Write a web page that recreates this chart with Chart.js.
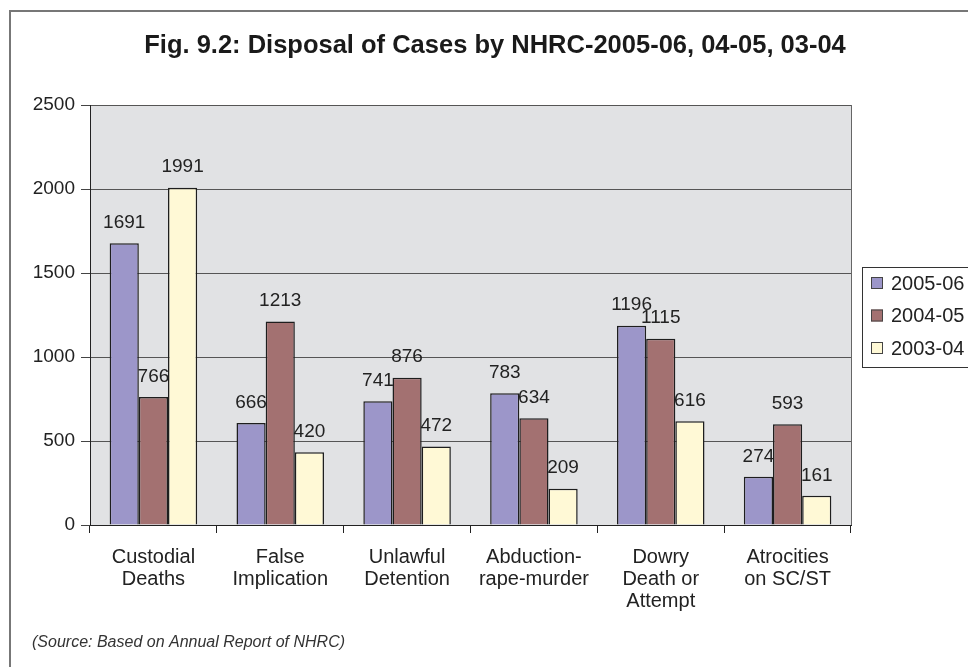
<!DOCTYPE html>
<html>
<head>
<meta charset="utf-8">
<script src="https://cdn.jsdelivr.net/npm/chart.js@4.4.0/dist/chart.umd.min.js"></script>
<style>
  html, body { margin: 0; padding: 0; background: #fff; overflow: hidden; }
  #wrap { position: relative; width: 968px; height: 667px; }
</style>
</head>
<body>
<div id="wrap"><canvas id="chart" width="968" height="667"></canvas></div>
<script>
// categories (multi-line tick labels)
const categories = [
    ["Custodial", "Deaths"],
    ["False", "Implication"],
    ["Unlawful", "Detention"],
    ["Abduction-", "rape-murder"],
    ["Dowry", "Death or", "Attempt"],
    ["Atrocities", "on SC/ST"]
];

const seriesNames = ["2005-06", "2004-05", "2003-04"];

// bar heights as drawn in the picture
const values0506 = [1677, 607, 736, 784, 1186, 287];
const values0405 = [762, 1212, 877, 635, 1109, 599];
const values0304 = [2008, 433, 468, 216, 617, 174];

// printed numbers above the bars
const labels0506 = ["1691", "666", "741", "783", "1196", "274"];
const labels0405 = ["766", "1213", "876", "634", "1115", "593"];
const labels0304 = ["1991", "420", "472", "209", "616", "161"];

const yTicks = [0, 500, 1000, 1500, 2000, 2500];

const titleText = "Fig. 9.2: Disposal of Cases by NHRC-2005-06, 04-05, 03-04";
const sourceText = "(Source: Based on Annual Report of NHRC)";

const colors = ["#9c96c9", "#a37171", "#fff9d6"];
const FONT = "'Liberation Sans', Arial, sans-serif";

Chart.defaults.font.family = FONT;
Chart.defaults.color = "#222";

// background, frame, title, source
const decorPlugin = {
    id: "decor",
    beforeDraw(chart) {
        const { ctx, chartArea: a } = chart;
        ctx.save();
        ctx.fillStyle = "#fff";
        ctx.fillRect(0, 0, chart.width, chart.height);
        // outer frame
        ctx.strokeStyle = "#777";
        ctx.lineWidth = 2;
        ctx.beginPath();
        ctx.moveTo(10, 700);
        ctx.lineTo(10, 11);
        ctx.lineTo(1000, 11);
        ctx.stroke();
        // plot background
        ctx.fillStyle = "#e1e2e4";
        ctx.fillRect(a.left, a.top, a.right - a.left, a.bottom - a.top);
        // title
        ctx.fillStyle = "#1a1a1a";
        ctx.font = "bold 25.5px " + FONT;
        ctx.textAlign = "center";
        ctx.textBaseline = "middle";
        ctx.fillText(titleText, 495, 46);
        // source
        ctx.font = "italic 16px " + FONT;
        ctx.textAlign = "left";
        ctx.fillStyle = "#333";
        ctx.fillText(sourceText, 32, 643);
        ctx.restore();
    },
    afterDraw(chart) {
        const { ctx, chartArea: a } = chart;
        ctx.save();
        // plot right border
        ctx.strokeStyle = "#666";
        ctx.lineWidth = 1;
        ctx.beginPath();
        ctx.moveTo(a.right + 0.5, a.top);
        ctx.lineTo(a.right + 0.5, a.bottom);
        ctx.stroke();
        // legend box
        const lx = 862, ly = 267;
        ctx.fillStyle = "#fff";
        ctx.fillRect(lx, ly, 130, 100);
        ctx.strokeStyle = "#333";
        ctx.strokeRect(lx + 0.5, ly + 0.5, 130, 100);
        ctx.font = "20px " + FONT;
        ctx.textAlign = "left";
        ctx.textBaseline = "middle";
        chart.data.datasets.forEach((ds, i) => {
            const cy = 283 + i * 32.5;
            ctx.fillStyle = ds.backgroundColor;
            ctx.fillRect(871, cy - 6, 12, 12);
            ctx.strokeStyle = "#444";
            ctx.strokeRect(871.5, cy - 5.5, 11, 11);
            ctx.fillStyle = "#222";
            ctx.fillText(ds.label, 891, cy + 1);
        });
        ctx.restore();
    }
};

// number labels above bars
const barLabelPlugin = {
    id: "barLabels",
    afterDatasetsDraw(chart) {
        const { ctx } = chart;
        ctx.save();
        ctx.font = "19px " + FONT;
        ctx.fillStyle = "#222";
        ctx.textAlign = "center";
        ctx.textBaseline = "bottom";
        chart.data.datasets.forEach((ds, i) => {
            chart.getDatasetMeta(i).data.forEach((el, j) => {
                ctx.fillText(ds.printed[j], el.x, el.y - 11);
            });
        });
        ctx.restore();
    }
};

const valueSets = [values0506, values0405, values0304];
const labelSets = [labels0506, labels0405, labels0304];

new Chart(document.getElementById("chart"), {
    type: "bar",
    data: {
        labels: categories,
        datasets: seriesNames.map((name, i) => ({
            label: name,
            data: valueSets[i],
            printed: labelSets[i],
            backgroundColor: colors[i],
            borderColor: "#1e1e1e",
            borderWidth: 1.5,
            barPercentage: 1,
            categoryPercentage: 0.69
        }))
    },
    options: {
        responsive: false,
        animation: false,
        layout: { padding: { left: 0, right: 117, top: 105, bottom: 0 } },
        plugins: {
            legend: { display: false },
            tooltip: { enabled: false }
        },
        scales: {
            x: {
                afterFit(s) { s.height = 142; },
                grid: {
                    drawOnChartArea: false,
                    drawTicks: true,
                    tickLength: 8,
                    tickColor: "#222",
                    offset: true
                },
                border: { color: "#222", width: 1 },
                ticks: {
                    font: { size: 20, family: FONT, lineHeight: 1.1 },
                    color: "#222",
                    padding: 13,
                    maxRotation: 0,
                    autoSkip: false
                }
            },
            y: {
                min: 0,
                max: 2500,
                afterFit(s) { s.width = 90; },
                afterBuildTicks(s) { s.ticks = yTicks.map(v => ({ value: v })); },
                grid: {
                    color: "#555",
                    tickColor: "#444",
                    tickLength: 9,
                    lineWidth: 1
                },
                border: { color: "#222", width: 1 },
                ticks: {
                    font: { size: 19, family: FONT },
                    color: "#222",
                    padding: 6,
                    callback: v => String(v)
                }
            }
        }
    },
    plugins: [decorPlugin, barLabelPlugin]
});
</script>
</body>
</html>
